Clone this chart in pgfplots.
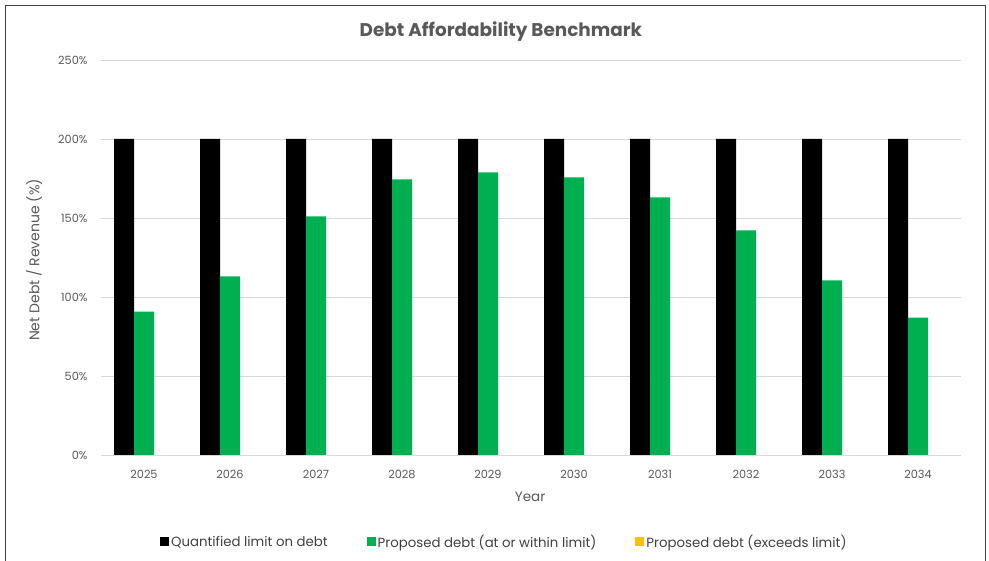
\documentclass[border=0pt]{standalone}
\usepackage{fontspec}
\setmainfont{Poppins}
\usepackage{pgfplots}
\pgfplotsset{compat=1.18}
\definecolor{txt}{HTML}{595959}
\definecolor{legtxt}{HTML}{404040}
\definecolor{gridc}{HTML}{D9D9D9}
\definecolor{greenc}{HTML}{00B050}
\definecolor{yellowc}{HTML}{FFC000}
\definecolor{framec}{HTML}{3F3F3F}
\pgfplotsset{sqlegend/.style={legend image code/.code={\fill[##1] (0bp,-4.5bp) rectangle (9bp,4.5bp);}}}
\begin{document}
\begin{tikzpicture}[x=1bp,y=1bp]
\useasboundingbox (0,0) rectangle (989,561);
\fill[white] (0,0) rectangle (989,561);
\draw[framec, line width=1bp] (5.5,-10) -- (5.5,555.5) -- (985.5,555.5) -- (985.5,-10);
\begin{axis}[
  at={(101bp,106bp)}, anchor=south west,
  scale only axis, width=860bp, height=395bp,
  xmin=-0.5, xmax=9.5, ymin=0, ymax=250,
  axis line style={draw=none},
  major tick length=0pt,
  ymajorgrids, grid style={gridc, line width=0.8bp},
  xtick={0,...,9},
  xticklabels={2025,2026,2027,2028,2029,2030,2031,2032,2033,2034},
  ytick={0,50,100,150,200,250},
  yticklabels={0\%,50\%,100\%,150\%,200\%,250\%},
  tick label style={font=\fontsize{11.3bp}{13bp}\selectfont, text=txt},
  yticklabel style={xshift=-10bp},
  xticklabel style={yshift=-12bp},
  every axis y label/.style={at={(axis description cs:-0.0779,0.494)}, rotate=90, anchor=center, font=\fontsize{14bp}{16bp}\selectfont, text=txt},
  every axis x label/.style={at={(axis description cs:0.499,-0.106)}, anchor=center, font=\fontsize{13.5bp}{16bp}\selectfont, text=txt},
  ylabel={Net Debt / Revenue (\%)},
  xlabel={Year},
  title={Debt Affordability Benchmark},
  every axis title/.style={at={(axis description cs:0.465,1.073)}, anchor=center, font=\bfseries\fontsize{18.4bp}{21bp}\selectfont, text=txt},
  legend columns=3,
  legend style={at={(axis description cs:0.469,-0.220)}, anchor=center, draw=none, fill=none,
    font=\fontsize{13.3bp}{15bp}\selectfont, text=legtxt,
    /tikz/every even column/.append style={column sep=37bp},
    nodes={inner sep=2bp}},
]
\addplot[ybar, bar width=20bp, bar shift=-20bp, fill=black, draw=none, sqlegend]
  coordinates {(0,200) (1,200) (2,200) (3,200) (4,200) (5,200) (6,200) (7,200) (8,200) (9,200)};
\addlegendentry{Quantified limit on debt}
\addplot[ybar, bar width=20bp, bar shift=0bp, fill=greenc, draw=none, sqlegend]
  coordinates {(0,90.7) (1,113.1) (2,151.1) (3,174.5) (4,178.9) (5,175.7) (6,163.1) (7,142.2) (8,110.5) (9,86.9)};
\addlegendentry{Proposed debt (at or within limit)}
\addlegendimage{fill=yellowc, draw=none, sqlegend}
\addlegendentry{Proposed debt (exceeds limit)}
\end{axis}
\end{tikzpicture}
\end{document}
